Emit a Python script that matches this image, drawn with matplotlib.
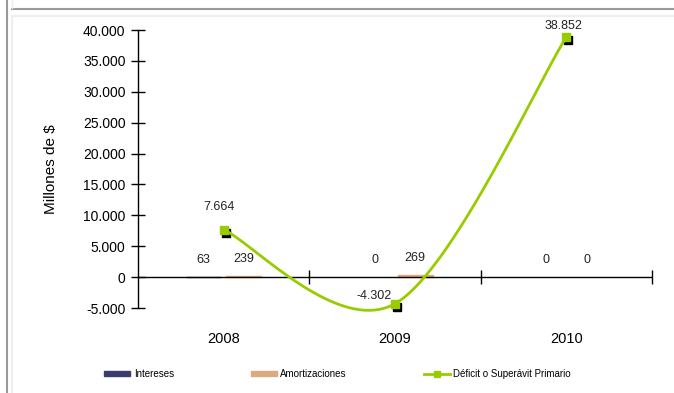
import numpy as np
import matplotlib
matplotlib.use("Agg")
import matplotlib.pyplot as plt
from matplotlib.lines import Line2D
import matplotlib.transforms as mtransforms

years = ["2008", "2009", "2010"]
intereses = [63, 0, 0]
amortizaciones = [239, 269, 0]
deficit = [7664, -4302, 38852]

# label offsets (points) for the line labels, as Excel put them
line_label_offsets = [(-3, 12), (-2, 1), (-2, 4)]
line_label_ha = ["center", "right", "center"]

W, H = 674, 393
plt.rcParams['font.family'] = ['Liberation Sans', 'DejaVu Sans']

fig = plt.figure(figsize=(W / 100, H / 100), dpi=100)
fig.patch.set_facecolor("white")

# outer frame bits
def fx(px):
    return px / W

def fy(py):
    return 1 - py / H

fig.add_artist(Line2D([fx(6.5), fx(6.5)], [0, 1], color="#9a9a9a", lw=1.5))
fig.add_artist(Line2D([fx(12), 1], [fy(8.5), fy(8.5)], color="#9a9a9a", lw=1.5))
fig.add_artist(Line2D([fx(12.5), fx(12.5)], [fy(0), fy(8)], color="#eeeeee", lw=1))
fig.add_artist(Line2D([fx(12.5), fx(12.5)], [fy(16), 0], color="#eeeeee", lw=1.5))
fig.add_artist(Line2D([fx(12), 1], [fy(16), fy(16)], color="#eeeeee", lw=1.5))

ax = fig.add_axes([138 / W, 1 - 308 / H, (652 - 138) / W, (308 - 30) / H])
ax.set_facecolor("white")

x = np.arange(len(years))
bw = 0.205
off = 0.118
# tiny values get an edge so they stay visible, zeros don't
ax.bar(x - off, intereses, bw, color="#3d3d6d", edgecolor="#3d3d6d",
       linewidth=[1 if v else 0 for v in intereses], zorder=2)
ax.bar(x + off, amortizaciones, bw, color="#dcaa80", edgecolor="#dcaa80",
       linewidth=[1 if v else 0 for v in amortizaciones], zorder=2)

for xi, v in zip(x - off, intereses):
    ax.annotate(f"{v:,}".replace(",", "."), (xi, v), xytext=(0, 8), textcoords="offset points",
                ha="center", va="bottom", fontsize=9, color="#222222")
for xi, v in zip(x + off, amortizaciones):
    ax.annotate(f"{v:,}".replace(",", "."), (xi, v), xytext=(0, 8), textcoords="offset points",
                ha="center", va="bottom", fontsize=9, color="#222222")

# smoothed line (Excel style bezier / catmull-rom)
pts = np.column_stack([x, deficit]).astype(float)
curve = []
n = len(pts)
for i in range(n - 1):
    p0 = pts[max(i - 1, 0)]
    p1 = pts[i]
    p2 = pts[i + 1]
    p3 = pts[min(i + 2, n - 1)]
    c1 = p1 + (p2 - p0) / 6
    c2 = p2 - (p3 - p1) / 6
    t = np.linspace(0, 1, 80)[:, None]
    seg = (1 - t) ** 3 * p1 + 3 * (1 - t) ** 2 * t * c1 + 3 * (1 - t) * t ** 2 * c2 + t ** 3 * p2
    curve.append(seg)
curve = np.vstack(curve)
ax.plot(curve[:, 0], curve[:, 1], color="#99cc00", lw=2, zorder=4,
        solid_capstyle="round", clip_on=False)

shadow = mtransforms.offset_copy(ax.transData, fig=fig, x=2, y=-3, units="dots")
ax.plot(x, deficit, "s", color="black", ms=6, transform=shadow, zorder=3, clip_on=False)
ax.plot(x, deficit, "s", color="#99cc00", ms=6, zorder=5, clip_on=False)

for xi, v, o, ha in zip(x, deficit, line_label_offsets, line_label_ha):
    ax.annotate(f"{v:,}".replace(",", "."), (xi, v), xytext=o, textcoords="offset points",
                ha=ha, va="bottom", fontsize=9, color="#222222", zorder=6)

ax.set_xlim(-0.5, 2.5)
ax.set_ylim(-5000, 40000)
yt = np.arange(-5000, 40001, 5000)
ax.set_yticks(yt)
ax.set_yticklabels([f"{v:,}".replace(",", ".") for v in yt], fontsize=10)
ax.tick_params(axis="y", direction="inout", length=10, width=1, pad=4)

for s in ["top", "right", "bottom"]:
    ax.spines[s].set_visible(False)
ax.spines["left"].set_linewidth(1)

# category axis crosses at zero
ax.axhline(0, color="black", lw=1, zorder=3)
ax.plot([0.5, 1.5, 2.5], [0, 0, 0], "|", color="black", ms=10, mew=1, zorder=3, clip_on=False)

ax.set_xticks(x)
ax.set_xticklabels(years, fontsize=10.5)
ax.tick_params(axis="x", length=0, pad=17)

ax.set_ylabel("Millones de $", fontsize=11, labelpad=18)

handles = [
    plt.Rectangle((0, 0), 1, 1, color="#3d3d6d"),
    plt.Rectangle((0, 0), 1, 1, color="#dcaa80"),
    Line2D([], [], color="#99cc00", lw=2, marker="s", ms=5),
]
leg = fig.legend(handles, ["Intereses", "Amortizaciones", "Déficit o Superávit Primario"],
                 loc="center left", bbox_to_anchor=(104 / W, 1 - 374 / H), ncol=3,
                 frameon=False, fontsize=7, handlelength=2.7, handleheight=0.5,
                 handletextpad=0.35, columnspacing=7.9, borderpad=0, borderaxespad=0)

fig.savefig("out.png", dpi=100)
